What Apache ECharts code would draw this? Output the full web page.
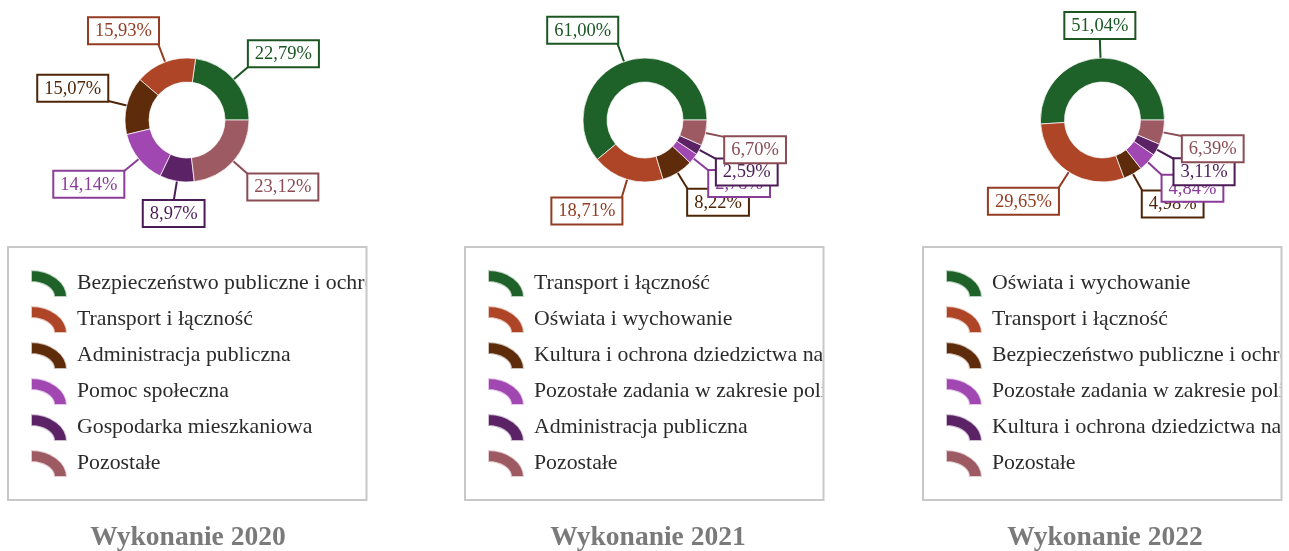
<!DOCTYPE html>
<html>
<head>
<meta charset="utf-8">
<script src="https://cdn.jsdelivr.net/npm/echarts@6/dist/echarts.min.js"></script>
<style>
  html, body { margin: 0; padding: 0; background: #ffffff; overflow: hidden; }
  #chart { width: 1289px; height: 551px; }
</style>
</head>
<body>
<div id="chart"></div>
<script>
// Budget execution structure by section, share of total (%)
const names2020 = [
  'Bezpieczeństwo publiczne i ochrona przeciwpożarowa',
  'Transport i łączność',
  'Administracja publiczna',
  'Pomoc społeczna',
  'Gospodarka mieszkaniowa',
  'Pozostałe'
];
const values2020 = [22.79, 15.93, 15.07, 14.14, 8.97, 23.12];

const names2021 = [
  'Transport i łączność',
  'Oświata i wychowanie',
  'Kultura i ochrona dziedzictwa narodowego',
  'Pozostałe zadania w zakresie polityki społecznej',
  'Administracja publiczna',
  'Pozostałe'
];
const values2021 = [61.00, 18.71, 8.22, 2.78, 2.59, 6.70];

const names2022 = [
  'Oświata i wychowanie',
  'Transport i łączność',
  'Bezpieczeństwo publiczne i ochrona przeciwpożarowa',
  'Pozostałe zadania w zakresie polityki społecznej',
  'Kultura i ochrona dziedzictwa narodowego',
  'Pozostałe'
];
const values2022 = [51.04, 29.65, 4.98, 4.84, 3.11, 6.39];

const panelTitles = ['Wykonanie 2020', 'Wykonanie 2021', 'Wykonanie 2022'];

// Styling
const SLICE_COLORS = ['#1E6129', '#AE4527', '#5E2C0A', '#A147B1', '#5B2266', '#9E5A63'];
const LABEL_COLORS = ['#1B5623', '#933C22', '#4E2506', '#8A3C99', '#4B1B56', '#8A4C55'];
const SERIF = '"Liberation Serif", "Times New Roman", serif';
const ARC_ICON = 'path://M0,0 A36,27 0 0 1 36,27 L23,27 A23,15 0 0 0 0,12 Z';

// Layout of the three panels
const LEGEND_BOX = { top: 247, width: 358.5, height: 253 };
const panels = [
  { names: names2020, values: values2020, cx: 187,    boxLeft: 8,   titleX: 188 },
  { names: names2021, values: values2021, cx: 645,    boxLeft: 465, titleX: 648 },
  { names: names2022, values: values2022, cx: 1102.5, boxLeft: 923, titleX: 1105 }
];

function pct(v) {
  return v.toFixed(2).replace('.', ',') + '%';
}

// Put the label box corner on the end of the leader line
function cornerLabel(params) {
  const pts = params.labelLinePoints;
  if (!pts) return {};
  const p0 = pts[0], p1 = pts[1];
  const dx = p1[0] - p0[0], dy = p1[1] - p0[1];
  const len = Math.hypot(dx, dy) || 1;
  const ux = dx / len, uy = dy / len;
  const align = Math.abs(ux) < 0.25 ? 'center' : (ux > 0 ? 'left' : 'right');
  const verticalAlign = uy < 0 ? 'bottom' : 'top';
  return {
    x: p1[0],
    y: p1[1],
    align: align,
    verticalAlign: verticalAlign,
    labelLinePoints: [p0, p1, p1]
  };
}

const series = panels.map(p => ({
  type: 'pie',
  center: [p.cx, 120],
  radius: [38, 62],
  startAngle: 0,
  clockwise: false,
  avoidLabelOverlap: false,
  animation: false,
  labelLayout: cornerLabel,
  itemStyle: { borderColor: 'rgba(255,255,255,0.7)', borderWidth: 1 },
  emphasis: { scale: false },
  data: p.names.map((n, i) => ({
    name: n,
    value: p.values[i],
    itemStyle: { color: SLICE_COLORS[i] },
    label: {
      show: true,
      position: 'outside',
      formatter: params => pct(params.value),
      fontFamily: SERIF,
      fontSize: 18.5,
      lineHeight: 18,
      color: LABEL_COLORS[i],
      backgroundColor: '#ffffff',
      borderColor: LABEL_COLORS[i],
      borderWidth: 2,
      padding: [4, 6, 3, 6]
    },
    labelLine: {
      show: true,
      length: 20,
      length2: 0,
      smooth: false,
      lineStyle: { color: LABEL_COLORS[i], width: 2 }
    }
  }))
}));

// Legend entries; long names run past the frame and are clipped by it
const legends = panels.map(p => ({
  orient: 'vertical',
  left: p.boxLeft,
  top: LEGEND_BOX.top,
  padding: [22, 0, 21, 22],
  itemWidth: 46,
  itemHeight: 27,
  itemGap: 7,
  icon: ARC_ICON,
  selectedMode: false,
  textStyle: {
    fontFamily: SERIF,
    fontSize: 21.8,
    lineHeight: 27,
    color: '#2b2b2b',
    width: 320,
    overflow: 'truncate',
    ellipsis: ''
  },
  data: p.names.map((n, i) => ({ name: n, itemStyle: { color: SLICE_COLORS[i] } }))
}));

// Legend frame plus a white mask to its right that clips overlong names
const frames = [];
panels.forEach(p => {
  frames.push({
    type: 'rect',
    z: 50,
    silent: true,
    shape: { x: p.boxLeft + LEGEND_BOX.width - 1, y: LEGEND_BOX.top + 2, width: 90, height: LEGEND_BOX.height - 4 },
    style: { fill: '#ffffff' }
  });
  frames.push({
    type: 'rect',
    z: 51,
    silent: true,
    shape: { x: p.boxLeft, y: LEGEND_BOX.top, width: LEGEND_BOX.width, height: LEGEND_BOX.height },
    style: { fill: null, stroke: '#c8c8c8', lineWidth: 2 }
  });
});

const titles = panels.map((p, k) => ({
  text: panelTitles[k],
  left: p.titleX,
  top: 524,
  textAlign: 'center',
  padding: 0,
  textStyle: {
    fontFamily: SERIF,
    fontWeight: 'bold',
    fontSize: 27.5,
    color: '#7a7a7a'
  }
}));

const chart = echarts.init(document.getElementById('chart'), null, { renderer: 'canvas' });
chart.setOption({
  backgroundColor: '#ffffff',
  animation: false,
  title: titles,
  legend: legends,
  graphic: { elements: frames },
  series: series
});
</script>
</body>
</html>
